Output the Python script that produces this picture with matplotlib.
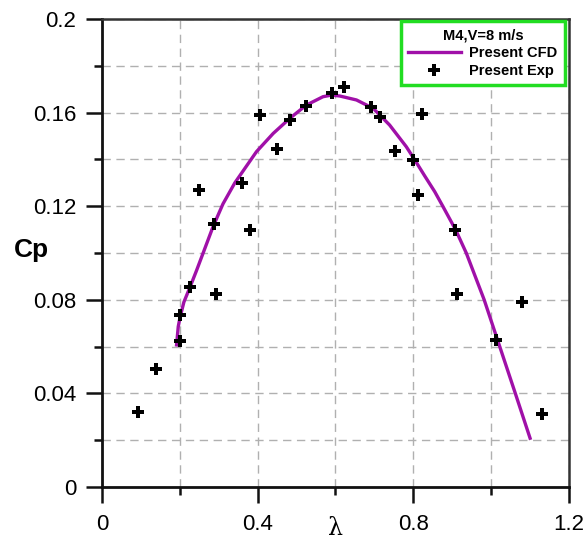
import numpy as np
import matplotlib
matplotlib.use("Agg")
import matplotlib.pyplot as plt
from matplotlib.ticker import MultipleLocator

plt.rcParams['font.family'] = ['Liberation Sans', 'DejaVu Sans']

# CFD power coefficient curve
tsr_cfd = [0.1917, 0.196, 0.200, 0.2105, 0.226, 0.243, 0.260, 0.286, 0.311, 0.3415,
           0.397, 0.440, 0.483, 0.525, 0.568, 0.590, 0.611, 0.654, 0.697,
           0.739, 0.782, 0.804, 0.829, 0.855, 0.875, 0.909, 0.936, 0.982, 1.022,
           1.062, 1.100]
cp_cfd = [0.0607, 0.0685, 0.0720, 0.0790, 0.0853, 0.0925, 0.1000, 0.1115, 0.1210, 0.1300,
          0.1433, 0.1511, 0.1576, 0.1632, 0.1668, 0.1675, 0.1671, 0.1654, 0.1618,
          0.1547, 0.1454, 0.1397, 0.1330, 0.1262, 0.1202, 0.1098, 0.1000, 0.0800, 0.0600,
          0.0400, 0.0208]

# experimental points
tsr_exp = [0.093, 0.140, 0.200, 0.200, 0.226, 0.250, 0.288, 0.293, 0.361, 0.380,
           0.407, 0.450, 0.483, 0.525, 0.590, 0.621, 0.690, 0.714, 0.752, 0.799,
           0.812, 0.823, 0.906, 0.912, 1.013, 1.080, 1.131]
cp_exp = [0.0322, 0.0503, 0.0624, 0.0735, 0.0853, 0.127, 0.1124, 0.0823, 0.130, 0.110,
          0.159, 0.1443, 0.157, 0.163, 0.1685, 0.1708, 0.1625, 0.158, 0.1436, 0.1397,
          0.1248, 0.1594, 0.1098, 0.0826, 0.0628, 0.0791, 0.0312]

fig = plt.figure(figsize=(5.86, 5.44), dpi=100)
ax = fig.add_axes([0.174, 0.105, 0.797, 0.860])

ax.plot(tsr_cfd, cp_cfd, color='#a010a8', lw=2.4, label='Present CFD', zorder=3,
        solid_joinstyle='round')
ax.plot(tsr_exp, cp_exp, 'P', color='black', ms=8, mew=0, ls='none',
        label='Present Exp', zorder=4)

ax.set_xlim(0, 1.2)
ax.set_ylim(0, 0.2)
ax.xaxis.set_major_locator(MultipleLocator(0.4))
ax.xaxis.set_minor_locator(MultipleLocator(0.2))
ax.yaxis.set_major_locator(MultipleLocator(0.04))
ax.yaxis.set_minor_locator(MultipleLocator(0.02))
ax.xaxis.set_major_formatter(plt.FuncFormatter(lambda v, p: f'{v:g}'))
ax.yaxis.set_major_formatter(plt.FuncFormatter(lambda v, p: f'{v:g}'))

ax.grid(which='both', color='#b0b0b0', ls=(0, (6, 4)), lw=1.0)
ax.set_axisbelow(True)

ax.tick_params(which='major', direction='out', length=11.5, width=1.8,
               labelsize=16, pad=7, color='#111111')
ax.tick_params(which='minor', direction='out', length=6, width=1.8, color='#111111')
ax.tick_params(axis='x', which='major', pad=8)
for side in ['left', 'bottom']:
    ax.spines[side].set_linewidth(2.0)
    ax.spines[side].set_color('#111111')
for side in ['top', 'right']:
    ax.spines[side].set_linewidth(1.8)
    ax.spines[side].set_color('#333333')

ax.set_xlabel('λ', fontsize=17, family='DejaVu Serif')
ax.xaxis.set_label_coords(0.5, -0.065)
ax.set_ylabel('Cp', fontsize=19, fontweight='bold', rotation=0, va='center', ha='center')
ax.yaxis.set_label_coords(-0.152, 0.506)

leg = ax.legend(title='M4,V=8 m/s', loc='upper right', bbox_to_anchor=(1.007, 1.011),
                fancybox=False, framealpha=1, edgecolor='#22dd22',
                prop={'weight': 'bold', 'size': 10.5}, handlelength=3.6,
                borderpad=0.5, labelspacing=0.25, handletextpad=0.6)
leg.get_frame().set_linewidth(2.5)
leg.get_title().set_fontweight('bold')
leg.get_title().set_fontsize(10.5)

fig.savefig('out.png', dpi=100)
